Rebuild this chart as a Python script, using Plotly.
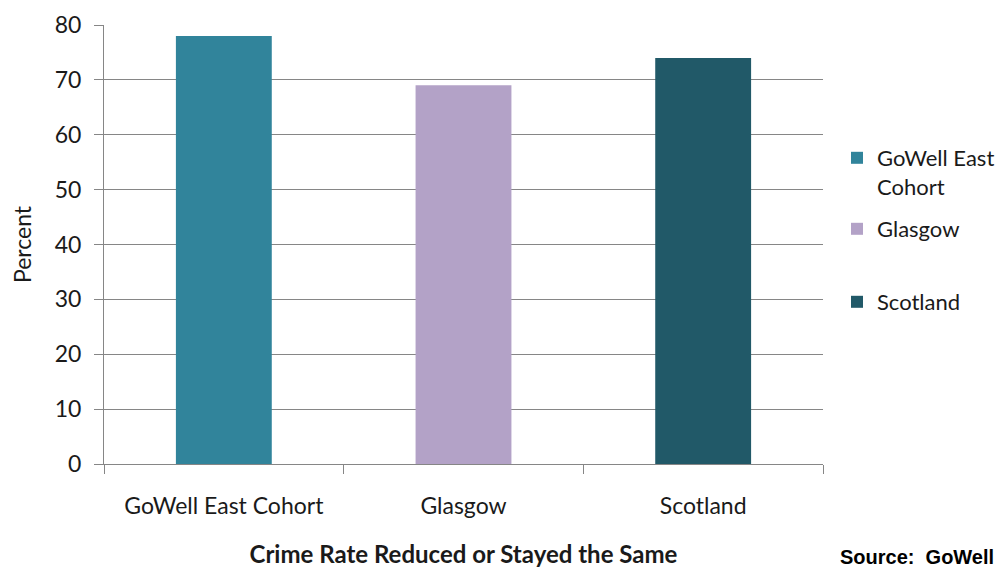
import plotly.graph_objects as go

categories = ["GoWell East Cohort", "Glasgow", "Scotland"]
values = [78, 69, 74]
legend_names = ["GoWell East<br>Cohort", "Glasgow", "Scotland"]
colors = ["#31849B", "#B3A2C7", "#215968"]
y_ticks = [0, 10, 20, 30, 40, 50, 60, 70, 80]

FONT = "Lato"
TXT = "#1a1a1a"
GRID = "#868686"

# The page body adds an 8px offset, so the figure is 996x560 and
# positions below are given in page pixels minus 8.
OFF = 8
FW, FH = 1004 - OFF, 568 - OFF
L = 104 - OFF
T = 25 - OFF
R = FW - (823 - OFF)
B = FH - (464 - OFF)
W = FW - L - R
H = FH - T - B

def py(page_y):
    return ((FH - B) - (page_y - OFF)) / H

def px(page_x):
    return ((page_x - OFF) - L) / W

fig = go.Figure()
legend_ids = ["legend", "legend2", "legend3"]
for i, cat in enumerate(categories):
    fig.add_trace(go.Bar(
        x=[cat], y=[values[i]], name=legend_names[i],
        marker=dict(color=colors[i], line=dict(width=0)),
        width=0.4, legend=legend_ids[i], showlegend=True,
    ))

leg_common = dict(font=dict(family=FONT, size=22, color=TXT),
                  bgcolor="rgba(0,0,0,0)", xanchor="left", yanchor="top",
                  xref="paper", yref="paper", itemwidth=30, valign="top")

fig.update_layout(
    width=FW, height=FH,
    margin=dict(l=L, r=R, t=T, b=B, autoexpand=False),
    paper_bgcolor="white", plot_bgcolor="white",
    font=dict(family=FONT, size=23, color=TXT),
    showlegend=True,
    legend=dict(x=px(837), y=py(137), **leg_common),
    legend2=dict(x=px(837), y=py(208), **leg_common),
    legend3=dict(x=px(837), y=py(281), **leg_common),
    xaxis=dict(
        type="category", tickson="boundaries", ticks="outside", ticklen=9,
        tickcolor=GRID, showline=True, linecolor=GRID, linewidth=1,
        showgrid=False, automargin=False, ticklabelstandoff=21,
        tickfont=dict(family=FONT, size=23, color=TXT),
        title=dict(text="<b>Crime Rate Reduced or Stayed the Same</b>",
                   font=dict(family=FONT, size=24, color=TXT), standoff=30),
    ),
    yaxis=dict(
        range=[0, 80], tickvals=y_ticks, ticks="outside", ticklen=9,
        tickcolor=GRID, showline=True, linecolor=GRID, linewidth=1,
        showgrid=True, gridcolor=GRID, gridwidth=1, zeroline=False,
        automargin=False, ticklabelstandoff=8,
        tickfont=dict(family=FONT, size=23, color=TXT),
        title=dict(text="Percent", font=dict(family=FONT, size=23, color=TXT),
                   standoff=32),
    ),
    annotations=[dict(
        text="<b>Source:  GoWell</b>", x=px(838), y=py(557),
        xref="paper", yref="paper", showarrow=False,
        font=dict(family="Liberation Sans", size=20, color="black"),
        xanchor="left", yanchor="middle",
    )],
)

fig.write_html("out.html")
